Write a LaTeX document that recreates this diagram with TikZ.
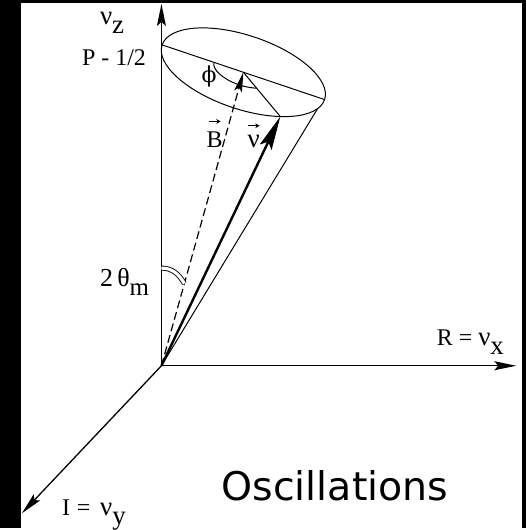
\documentclass[tikz,border=0pt]{standalone}
\usepackage{fontspec}
\setmainfont{Liberation Serif}
\newfontfamily\captionfont{DejaVu Sans}
\newfontfamily\greekfont{DejaVu Serif}
\usetikzlibrary{
  arrows.meta,
  calc
}
\newcommand{\nusub}[1]{{\fontsize{13.5}{13.5}\selectfont ν\raisebox{-4.5pt}{#1}}}

\begin{document}
\begin{tikzpicture}[x=0.5pt,y=0.5pt,
    axis/.style={line width=0.65pt,-{Stealth[length=11pt,width=4.5pt,inset=2pt]}},
    cone/.style={line width=0.5pt},
    bvec/.style={line width=0.6pt,dash pattern=on 4pt off 2pt,-{Stealth[length=10pt,width=4pt,inset=2pt]}},
    vvec/.style={line width=1.2pt,-{Stealth[length=17pt,width=6.5pt,inset=3pt]}},
    smallvec/.style={line width=0.45pt,-{Stealth[length=2.2pt,width=2.4pt]}},
    lbl/.style={anchor=base west,inner sep=0pt,font=\fontsize{12}{14}\selectfont}]
  \fill[black] (0,0) rectangle (528,530);
  \fill[white] (21,0) rectangle (524,527);

  \coordinate (O) at (162,163);
  \coordinate (zend) at (162,526);
  \coordinate (xend) at (518,163);
  \coordinate (yend) at (22,15);
  \coordinate (C) at (244.2,457.5);
  \begin{scope}[shift={(C)},rotate=-18.6]
    \coordinate (L) at (180:86 and 37);
    \coordinate (R) at (0:86 and 37);
    \coordinate (V) at (-55:86 and 37);
    \coordinate (T) at (-17:86 and 37);
    \draw[cone] (180:31 and 13.3) arc[start angle=180,end angle=305,x radius=31,y radius=13.3];
  \end{scope}

  \draw[axis] (O) -- (zend);
  \draw[axis] (O) -- (xend);
  \draw[axis] (O) -- (yend);

  \draw[cone,rotate around={-18.6:(C)}] (C) ellipse[x radius=86,y radius=37];
  \draw[cone] (L) -- (R);
  \draw[cone] (O) -- (T);
  \draw[cone] (C) -- (V);
  \draw[bvec] (O) -- (C);
  \draw[vvec] (O) -- (V);

  \coordinate (a1) at ($(O)!0.27!(zend)$);
  \coordinate (a2) at ($(O)!0.28!(C)$);
  \draw[line width=0.45pt,double,double distance=1.6pt] (a1) to[out=0,in=120] (a2);

  \node[lbl] (nz) at (100,505) {\nusub{z}};
  \node[lbl] (pz) at (82,464.5) {P - 1/2};
  \node[lbl,font=\greekfont\fontsize{11}{12}\selectfont] (phi) at (202,447) {ϕ};
  \node[lbl] (bl) at (207,382) {B};
  \node[lbl,font=\fontsize{13.5}{14}\selectfont] (vl) at (248,382) {ν};
  \draw[smallvec] ([xshift=-3pt,yshift=5pt]bl.north) -- ++(12,0);
  \draw[smallvec] ([xshift=-3pt,yshift=4.5pt]vl.north) -- ++(12,0);
  \node[lbl] (th) at (100,243) {{\fontsize{13}{14}\selectfont 2\,θ}\raisebox{-5pt}{\fontsize{12.5}{12.5}\selectfont m}};
  \node[lbl] (rx) at (438,183) {R = \nusub{x}};
  \node[lbl] (iy) at (62,13) {I\;= \,\nusub{y}};
  \node[lbl,font=\captionfont\fontsize{19.8}{22}\selectfont] (osc) at (222,28) {Oscillations};
\end{tikzpicture}
\end{document}
